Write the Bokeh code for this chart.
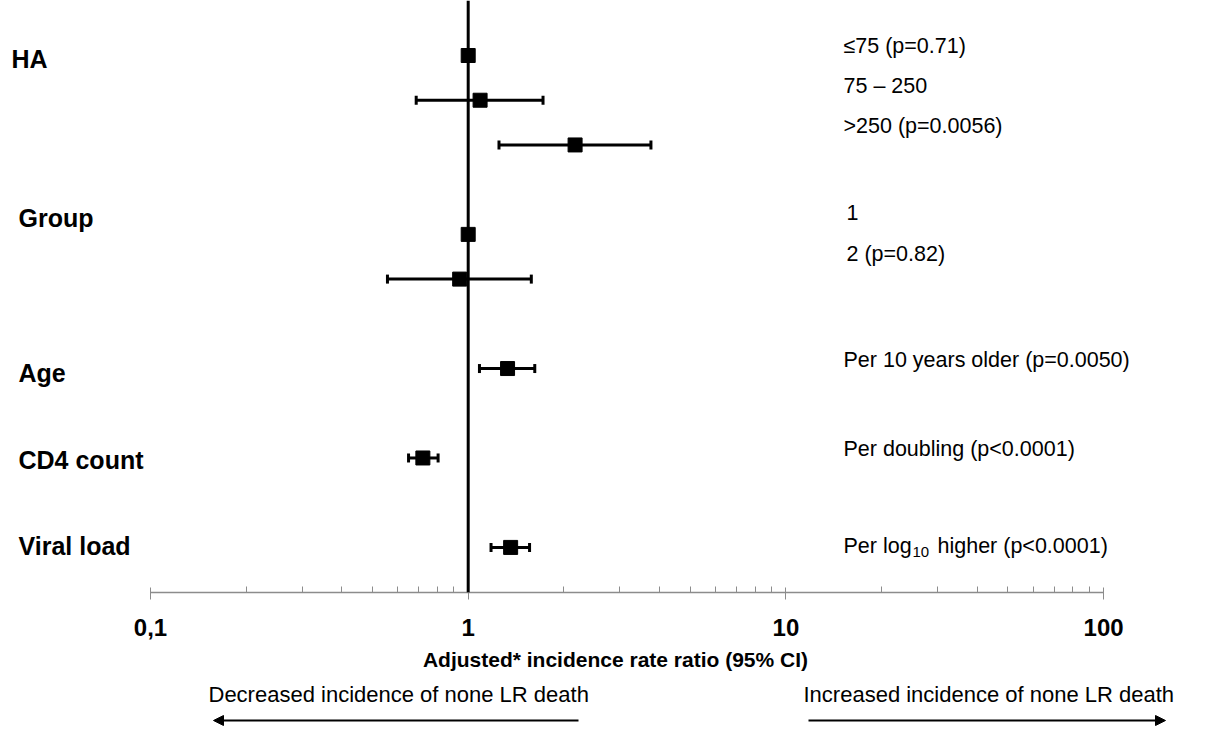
import math
from bokeh.plotting import figure
from bokeh.models import (Range1d, FixedTicker, CustomJSTickFormatter, Span, Whisker, TeeHead,
                          ColumnDataSource, Label, Arrow, NormalHead)
from bokeh.layouts import column
from bokeh.embed import file_html
from bokeh.resources import INLINE

# ---------------- data ----------------
variables = ["HA", "Group", "Age", "CD4 count", "Viral load"]
row_labels = ["≤75 (p=0.71)", "75 – 250", ">250 (p=0.0056)", "1", "2 (p=0.82)",
              "Per 10 years older (p=0.0050)", "Per doubling (p<0.0001)",
              "Per log10 higher (p<0.0001)"]
estimates = [1.0, 1.09, 2.17, 1.0, 0.94, 1.33, 0.72, 1.36]
ci_lower = [None, 0.686, 1.25, None, 0.557, 1.085, 0.649, 1.18]
ci_upper = [None, 1.72, 3.76, None, 1.58, 1.62, 0.804, 1.56]
rows = [0, 1, 2, 4, 5, 7, 9, 11]
tick_values = [0.1, 1, 10, 100]
tick_labels = ["0,1", "1", "10", "100"]
axis_title = "Adjusted* incidence rate ratio (95% CI)"
left_note = "Decreased incidence of none LR death"
right_note = "Increased incidence of none LR death"

# ---------------- layout helpers ----------------
FONT = "Liberation Sans"
W = 1230
TOTAL_H = 733
PX_DEC = 317.7        # pixels per decade
X01_PX = 150          # page x of 0.1
ROW0_PX = 55          # page y of first row
ROW_PX = 44.72        # pixels per row
AXIS_PX = 592         # page y of axis line

def x_of(px):
    return 10 ** (-1 + (px - X01_PX) / PX_DEC)

def row_of(py):
    return (py - ROW0_PX) / ROW_PX

MAIN_H = 678
BOT_H = TOTAL_H - MAIN_H

p = figure(width=W, height=MAIN_H, x_axis_type="log",
           x_range=Range1d(x_of(0), x_of(W)),
           y_range=Range1d(row_of(AXIS_PX), row_of(0)),
           output_backend="svg", toolbar_location=None,
           min_border_left=0, min_border_right=0, min_border_top=0,
           min_border_bottom=MAIN_H - AXIS_PX, y_axis_location=None)
p.outline_line_color = None
p.xgrid.visible = False
p.ygrid.visible = False

ax = p.xaxis[0]
minor = [m * 10 ** e for e in (-1, 0, 1) for m in range(2, 10)]
ax.ticker = FixedTicker(ticks=tick_values, minor_ticks=minor)
ax.formatter = CustomJSTickFormatter(args=dict(vals=tick_values, labs=tick_labels), code="""
for (let i = 0; i < vals.length; i++) {
  if (Math.abs(Math.log10(vals[i]) - Math.log10(tick)) < 1e-6) return labs[i];
}
return "";
""")
ax.bounds = (tick_values[0], tick_values[-1])
ax.axis_line_color = "#8c8c8c"
ax.axis_line_width = 1.5
ax.major_tick_line_color = "#8c8c8c"
ax.minor_tick_line_color = "#8c8c8c"
ax.major_tick_in = 5
ax.major_tick_out = 7
ax.minor_tick_in = 6
ax.minor_tick_out = 0
ax.major_label_text_font = FONT
ax.major_label_text_font_style = "bold"
ax.major_label_text_font_size = "24px"
ax.major_label_text_color = "black"
ax.major_label_standoff = 19
ax.axis_label = axis_title
ax.axis_label_text_font = FONT
ax.axis_label_text_font_style = "bold"
ax.axis_label_text_font_size = "21px"
ax.axis_label_text_color = "black"
ax.axis_label_standoff = 9

# reference line at 1
p.add_layout(Span(location=1, dimension="height", line_color="black", line_width=3))

# confidence intervals
ci_rows = [i for i in range(len(rows)) if ci_lower[i] is not None]
ci_src = ColumnDataSource(dict(y=[rows[i] for i in ci_rows],
                               lo=[ci_lower[i] for i in ci_rows],
                               hi=[ci_upper[i] for i in ci_rows]))
p.add_layout(Whisker(source=ci_src, base="y", lower="lo", upper="hi", dimension="width",
                     line_color="black", line_width=3,
                     lower_head=TeeHead(size=9, line_width=3, line_color="black"),
                     upper_head=TeeHead(size=9, line_width=3, line_color="black")))

# point estimates
p.scatter(x=estimates, y=rows, marker="square", size=14, color="black")

# variable names (left)
var_y_px = [58, 217, 372, 459, 545]
var_x_px = [11, 18, 18, 18, 18]
for name, py, px in zip(variables, var_y_px, var_x_px):
    p.add_layout(Label(x=x_of(px), y=row_of(py), text=name, text_font=FONT,
                       text_font_style="bold", text_font_size="25px",
                       text_baseline="middle", text_align="left", text_color="black"))

# row descriptions (right)
lab_y_px = [45, 85, 125, 212, 253, 359, 448, 545]
lab_x_px = [843, 843, 843, 846, 846, 843, 843, 843]
for txt, py, px in zip(row_labels, lab_y_px, lab_x_px):
    if "log10" in txt:
        pre, post = txt.split("log10")
        p.add_layout(Label(x=x_of(px), y=row_of(py), text=pre + "log", text_font=FONT,
                           text_font_size="21.5px", text_baseline="middle", text_color="black"))
        p.add_layout(Label(x=x_of(px), y=row_of(py), x_offset=69, y_offset=-6, text="10",
                           text_font=FONT, text_font_size="15px", text_baseline="middle",
                           text_color="black"))
        p.add_layout(Label(x=x_of(px), y=row_of(py), x_offset=94, text=post.strip(),
                           text_font=FONT, text_font_size="21.5px", text_baseline="middle",
                           text_color="black"))
    else:
        p.add_layout(Label(x=x_of(px), y=row_of(py), text=txt, text_font=FONT,
                           text_font_size="21.5px", text_baseline="middle", text_color="black"))

# ---------------- bottom notes ----------------
b = figure(width=W, height=BOT_H, x_axis_type="log", x_range=p.x_range,
           y_range=Range1d(BOT_H, 0), output_backend="svg", toolbar_location=None,
           min_border=0, x_axis_location=None, y_axis_location=None)
b.outline_line_color = None
b.xgrid.visible = False
b.ygrid.visible = False

b.add_layout(Label(x=x_of(208), y=16, text=left_note, text_font=FONT, text_font_size="22px",
                   text_baseline="middle", text_color="black"))
b.add_layout(Label(x=x_of(803), y=16, text=right_note, text_font=FONT, text_font_size="22px",
                   text_baseline="middle", text_color="black"))
b.add_layout(Arrow(x_start=x_of(578), y_start=42, x_end=x_of(213), y_end=42,
                   line_width=2, line_color="black",
                   end=NormalHead(size=10, fill_color="black", line_color="black")))
b.add_layout(Arrow(x_start=x_of(808), y_start=42, x_end=x_of(1165), y_end=42,
                   line_width=2, line_color="black",
                   end=NormalHead(size=10, fill_color="black", line_color="black")))

layout = column(p, b, spacing=0)
open("out.html", "w").write(file_html(layout, INLINE))
